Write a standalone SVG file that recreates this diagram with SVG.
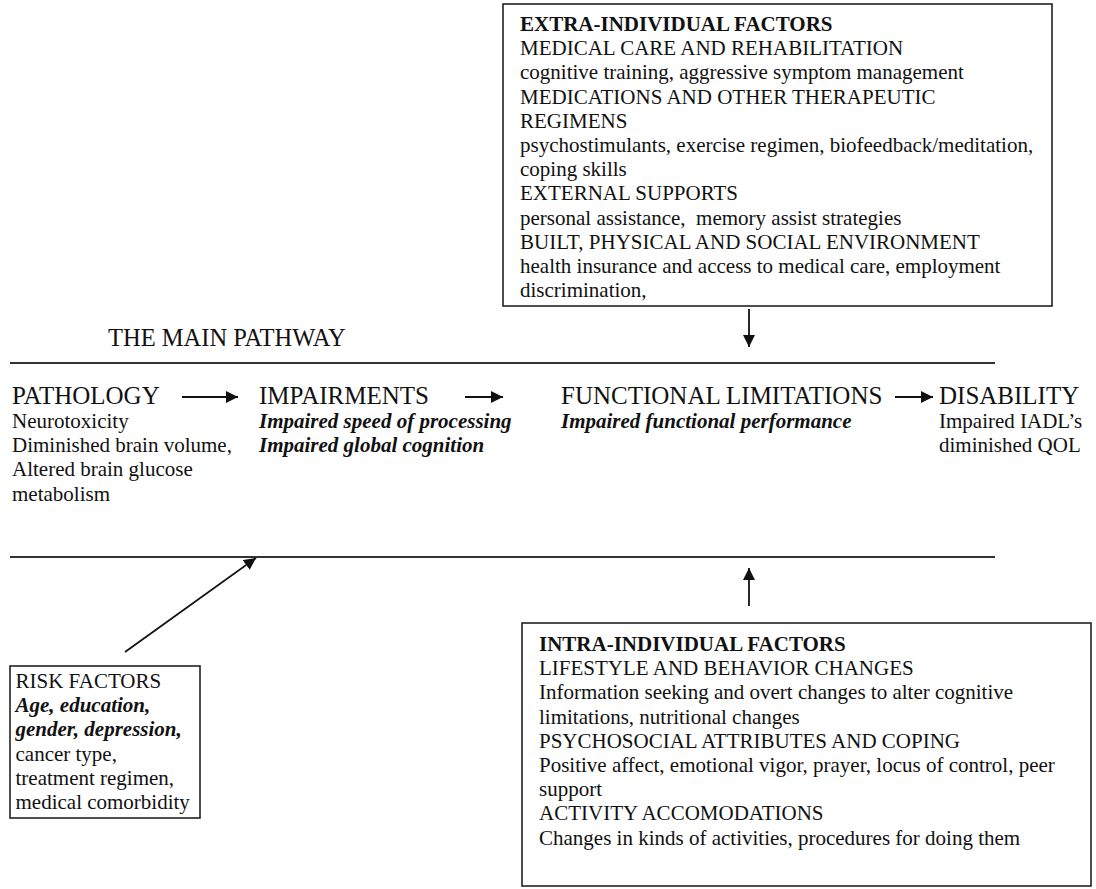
<svg xmlns="http://www.w3.org/2000/svg" width="1096" height="889" viewBox="0 0 1096 889">
<style>
text{font-family:"Liberation Serif","Times New Roman",serif;fill:#111}
.b{font-size:21px}
.h{font-size:25px}
.bi{font-size:21px;font-weight:bold;font-style:italic}
.bh{font-size:21px;font-weight:bold}
.box{fill:#fff;stroke:#222;stroke-width:1.6}
.rule{stroke:#333;stroke-width:2}
.arr{stroke:#111;stroke-width:1.8;fill:none;marker-end:url(#ah)}
</style>
<defs>
<marker id="ah" markerUnits="userSpaceOnUse" markerWidth="13" markerHeight="12" refX="12" refY="6" orient="auto">
<path d="M0,0 L12,6 L0,12 z" fill="#111"/>
</marker>
</defs>
<rect width="1096" height="889" fill="#fff"/>

<g id="extra">
<rect class="box" x="503" y="4" width="549" height="302"/>
<text class="bh" x="520" y="31">EXTRA-INDIVIDUAL FACTORS</text>
<text class="b" x="520" y="55.2">MEDICAL CARE AND REHABILITATION</text>
<text class="b" x="520" y="79.4">cognitive training, aggressive symptom management</text>
<text class="b" x="520" y="103.6">MEDICATIONS AND OTHER THERAPEUTIC</text>
<text class="b" x="520" y="127.8">REGIMENS</text>
<text class="b" x="520" y="152">psychostimulants, exercise regimen, biofeedback/meditation,</text>
<text class="b" x="520" y="176.2">coping skills</text>
<text class="b" x="520" y="200.4">EXTERNAL SUPPORTS</text>
<text class="b" x="520" y="224.6" xml:space="preserve">personal assistance,  memory assist strategies</text>
<text class="b" x="520" y="248.8">BUILT, PHYSICAL AND SOCIAL ENVIRONMENT</text>
<text class="b" x="520" y="273">health insurance and access to medical care, employment</text>
<text class="b" x="520" y="297.2">discrimination,</text>
</g>

<g id="main-pathway">
<text x="108" y="346" style="font-size:24.5px">THE MAIN PATHWAY</text>
<line class="rule" x1="10" y1="363" x2="995" y2="363"/>
<line class="rule" x1="10" y1="557" x2="995" y2="557"/>
</g>

<g id="pathology">
<text class="h" x="12" y="404">PATHOLOGY</text>
<text class="b" x="12" y="428">Neurotoxicity</text>
<text class="b" x="12" y="452.2">Diminished brain volume,</text>
<text class="b" x="12" y="476.4">Altered brain glucose</text>
<text class="b" x="12" y="500.6">metabolism</text>
</g>

<g id="impairments">
<text class="h" x="259" y="404">IMPAIRMENTS</text>
<text class="bi" x="259" y="428">Impaired speed of processing</text>
<text class="bi" x="259" y="452.2">Impaired global cognition</text>
</g>

<g id="functional">
<text class="h" x="561" y="404">FUNCTIONAL LIMITATIONS</text>
<text class="bi" x="561" y="428">Impaired functional performance</text>
</g>

<g id="disability">
<text class="h" x="939" y="404">DISABILITY</text>
<text class="b" x="939" y="428">Impaired IADL’s</text>
<text class="b" x="939" y="452.2">diminished QOL</text>
</g>

<g id="risk">
<rect class="box" x="10" y="666" width="190" height="152"/>
<text class="b" x="15.5" y="688">RISK FACTORS</text>
<text class="bi" x="15.5" y="712.2">Age, education,</text>
<text class="bi" x="15.5" y="736.4">gender, depression,</text>
<text class="b" x="15.5" y="760.6">cancer type,</text>
<text class="b" x="15.5" y="784.8">treatment regimen,</text>
<text class="b" x="15.5" y="809">medical comorbidity</text>
</g>

<g id="intra">
<rect class="box" x="522" y="623" width="569" height="263"/>
<text class="bh" x="539" y="651">INTRA-INDIVIDUAL FACTORS</text>
<text class="b" x="539" y="675.2">LIFESTYLE AND BEHAVIOR CHANGES</text>
<text class="b" x="539" y="699.4">Information seeking and overt changes to alter cognitive</text>
<text class="b" x="539" y="723.6">limitations, nutritional changes</text>
<text class="b" x="539" y="747.8">PSYCHOSOCIAL ATTRIBUTES AND COPING</text>
<text class="b" x="539" y="772">Positive affect, emotional vigor, prayer, locus of control, peer</text>
<text class="b" x="539" y="796.2">support</text>
<text class="b" x="539" y="820.4">ACTIVITY ACCOMODATIONS</text>
<text class="b" x="539" y="844.6">Changes in kinds of activities, procedures for doing them</text>
</g>

<g id="connectors">
<line class="arr" x1="182" y1="397" x2="238" y2="397"/>
<line class="arr" x1="465" y1="397" x2="503" y2="397"/>
<line class="arr" x1="895" y1="397" x2="933" y2="397"/>
<line class="arr" x1="749" y1="309" x2="749" y2="347"/>
<line class="arr" x1="749" y1="606" x2="749" y2="568"/>
<line class="arr" x1="125" y1="652" x2="256" y2="558"/>
</g>
</svg>
